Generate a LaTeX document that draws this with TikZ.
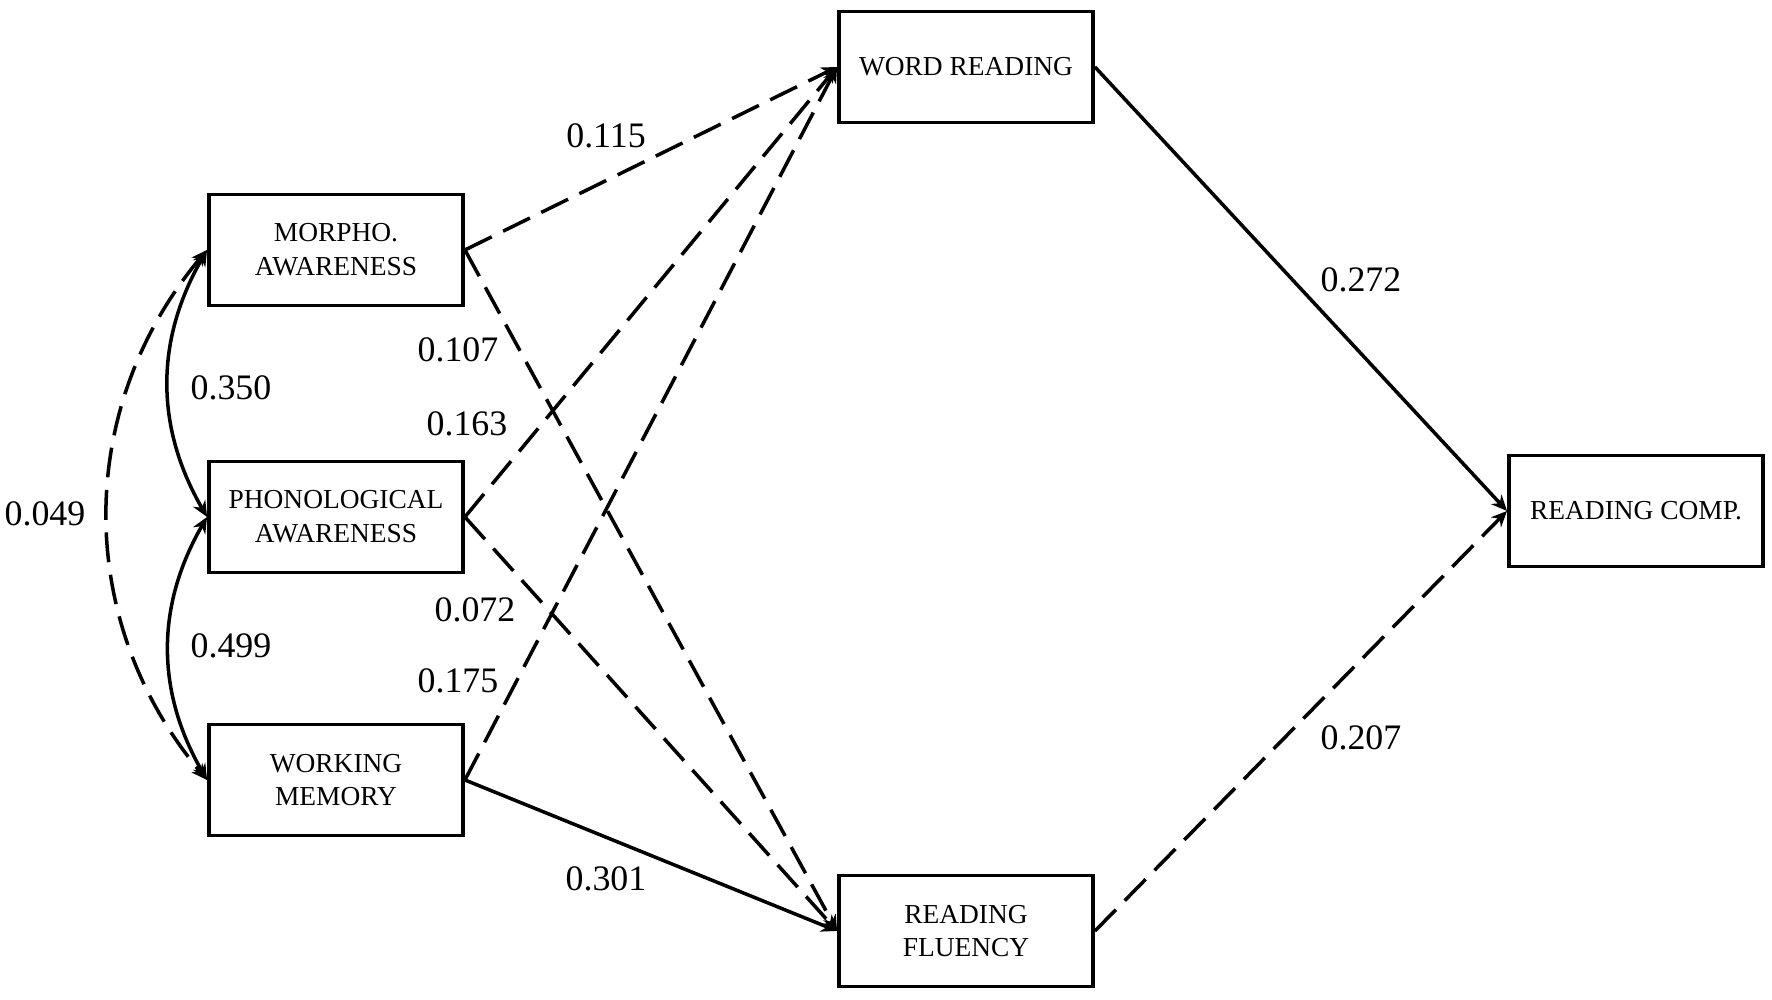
\documentclass[tikz,border=0pt]{standalone}
\usepackage{fontspec}
\setmainfont{Liberation Serif}
\usetikzlibrary{arrows.meta}

\begin{document}
\begin{tikzpicture}[
    var/.style={rectangle, draw, line width=1.1pt, minimum width=2.54cm, minimum height=1.11cm, align=center, inner sep=1pt, font=\fontsize{7.8}{9.6}\selectfont},
    solidarr/.style={-{Stealth[length=4.5pt, width=4pt]}, line width=1pt}, % 实线路径
    dasharr/.style={solidarr, dash pattern=on 8.5pt off 3.6pt}, % 虚线路径
    cov/.style={{Stealth[length=4.5pt, width=4pt]}-{Stealth[length=4.5pt, width=4pt]}, line width=1pt},
    coef/.style={font=\fontsize{10.2}{12}\selectfont}
]
\useasboundingbox (0,0) rectangle (17.72,10);

% 变量
\node[var] (ma) at (3.36,7.50) {MORPHO.\\AWARENESS};
\node[var] (pa) at (3.36,4.83) {PHONOLOGICAL\\AWARENESS};
\node[var] (wm) at (3.36,2.20) {WORKING\\MEMORY};
\node[var] (wr) at (9.66,9.33) {WORD READING};
\node[var] (rf) at (9.66,0.69) {READING\\FLUENCY};
\node[var] (rc) at (16.36,4.89) {READING COMP.};

% 路径
\foreach \a in {ma,pa,wm} {
    \draw[dasharr] (\a.east) -- (wr.west);
}
\foreach \a in {ma,pa} {
    \draw[dasharr] (\a.east) -- (rf.west);
}
\draw[solidarr] (wm.east) -- (rf.west);
\draw[solidarr] (wr.east) -- (rc.west);
\draw[dasharr] (rf.east) -- (rc.west);

% 相关
\draw[cov, bend right=30] (ma.west) to (pa.west);
\draw[cov, bend right=30] (pa.west) to (wm.west);
\draw[cov, dash pattern=on 8.5pt off 3.6pt, bend right=40] (ma.west) to (wm.west);

% 系数
\node[coef] (c1) at (2.31,6.12) {0.350};
\node[coef] (c2) at (2.31,3.54) {0.499};
\node[coef] (c3) at (0.45,4.86) {0.049};
\node[coef] (c4) at (6.06,8.64) {0.115};
\node[coef] (c5) at (4.58,6.50) {0.107};
\node[coef] (c6) at (4.67,5.76) {0.163};
\node[coef] (c7) at (4.75,3.90) {0.072};
\node[coef] (c8) at (4.58,3.19) {0.175};
\node[coef] (c9) at (6.06,1.21) {0.301};
\node[coef] (c10) at (13.61,7.20) {0.272};
\node[coef] (c11) at (13.61,2.62) {0.207};

\end{tikzpicture}
\end{document}
